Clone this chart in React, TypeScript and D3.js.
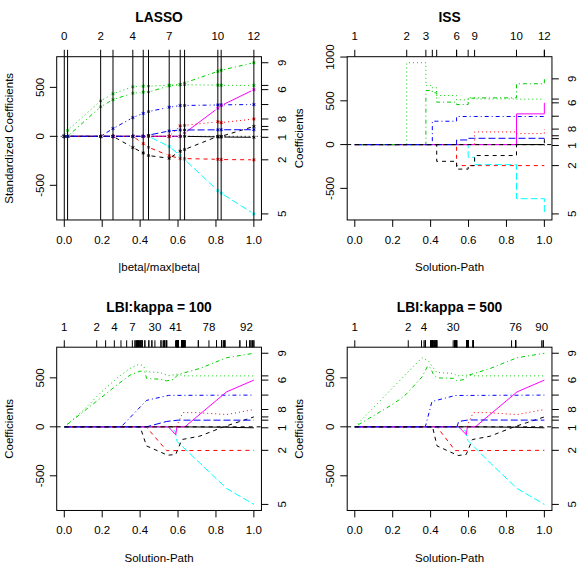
import React, { useEffect, useRef } from 'react';
import * as d3 from 'd3';

const FONT = "'Liberation Sans', Arial, Helvetica, sans-serif";

// R default palette (col 1:6) and matplot line types (lty 1:5)
const palette = ['#000000', '#FF0000', '#00CD00', '#0000FF', '#00FFFF', '#FF00FF'];
const ltys = [null, '4,4', '1,3', '1,3,4,3', '7,3'];

// variables: age sex bmi map tc ldl hdl tch ltg glu -> right axis labels 1..10
const varLabels = ['1', '2', '3', '4', '5', '6', '7', '8', '9', '10'];
const rightShown = ['1', '2', '5', '6', '8', '9'];

const xTicks = [0, 0.2, 0.4, 0.6, 0.8, 1.0];

// LASSO (lars) coefficients at each step, columns = variables 1..10
const lassoCoef = [
  [0, 0, 0, 0, 0, 0, 0, 0, 0, 0],
  [0, 0, 60.12, 0, 0, 0, 0, 0, 0, 0],
  [0, 0, 361.89, 0, 0, 0, 0, 0, 301.78, 0],
  [0, 0, 434.76, 79.24, 0, 0, 0, 0, 374.92, 0],
  [0, 0, 505.66, 191.27, 0, 0, -114.1, 0, 439.66, 0],
  [0, -74.92, 511.35, 234.15, 0, 0, -169.71, 0, 450.67, 0],
  [0, -111.98, 512.04, 252.53, 0, 0, -196.05, 0, 452.39, 12.08],
  [0, -197.76, 522.26, 297.16, -103.95, 0, -223.93, 0, 514.75, 54.77],
  [0, -226.13, 526.89, 314.39, -195.11, 0, -152.48, 106.34, 529.92, 64.49],
  [0, -227.18, 526.39, 314.95, -237.34, 33.63, -134.6, 111.38, 545.48, 64.61],
  [-5.72, -234.4, 522.65, 320.34, -554.27, 286.74, 0, 148.9, 663.03, 66.33],
  [-7.01, -237.1, 521.08, 321.55, -580.44, 313.86, 0, 139.86, 674.94, 67.18],
  [-10.01, -239.82, 519.84, 324.39, -792.18, 476.75, 101.04, 177.06, 751.28, 67.63],
];
const lassoShown = ['0', '2', '4', '7', '10', '12'];

// ISS: piecewise constant path, value holds from each break until the next
const issBreaks = [0, 0.274, 0.375, 0.409, 0.432, 0.537, 0.598, 0.632, 0.853, 1.0];
const issCoef = [
  [0, 0, 0, 0, 0, 0, 0, 0, 0, -10],
  [0, 0, 0, 0, 0, -240, -240, -240, -240, -240],
  [0, 935, 676, 649, 561, 511, 535, 522, 519, 520],
  [0, 0, 0, 267, 267, 321, 321, 321, 321, 324],
  [0, 0, 0, 0, 0, 0, -145, -229, -618, -792],
  [0, 0, 0, 0, 0, 0, 0, 0, 351, 477],
  [0, 0, 0, 0, -191, -280, -240, -125, 0, 101],
  [0, 0, 0, 0, 0, 0, 0, 145, 126, 177],
  [0, 0, 618, 592, 485, 458, 530, 534, 695, 751],
  [0, 0, 0, 0, 0, 53, 72, 72, 72, 68],
];
const issTicks = [0, 0.274, 0.375, 0.409, 0.432, 0.537, 0.537, 0.598, 0.632, 0.853, 1.0, 1.0];
const issShown = ['1', '2', '3', '6', '9', '10', '12'];

// LBI kappa = 100: [t, coefficient] per variable
const lbi100Paths = [
  [[0, 0], [0.6, 0], [0.85, -4], [1, -10]],
  [[0, 0], [0.432, 0], [0.54, -243], [1, -240]],
  [[0, 0], [0.1, 168], [0.19, 345], [0.28, 500], [0.346, 596], [0.39, 635], [0.415, 628], [0.434, 562], [0.504, 555], [0.548, 522], [0.6, 538], [0.627, 520], [1, 520]],
  [[0, 0], [0.3, 0], [0.434, 270], [0.55, 321], [1, 324]],
  [[0, 0], [0.548, 0], [0.585, -45], [0.595, -150], [0.715, -370], [0.856, -629], [1, -792]],
  [[0, 0], [0.548, 0], [0.588, -80], [0.594, 0], [0.636, 0], [0.856, 357], [1, 477]],
  [[0, 0], [0.4, 0], [0.434, -195], [0.545, -290], [0.588, -282], [0.62, -130], [0.715, -95], [0.84, 0], [1, 101]],
  [[0, 0], [0.59, 0], [0.625, 145], [0.7, 145], [0.856, 125], [1, 177]],
  [[0, 0], [0.188, 288], [0.276, 425], [0.346, 527], [0.4, 569], [0.425, 562], [0.434, 493], [0.504, 486], [0.54, 469], [0.575, 483], [0.6, 534], [0.715, 596], [0.856, 705], [1, 751]],
  [[0, 0], [0.434, 0], [0.54, 55], [0.6, 68], [1, 68]],
];
// top axis: [position, number of iterations stacked there]
const lbi100Ticks = [
  [0, 1], [0.171, 1], [0.218, 1], [0.264, 1], [0.299, 1], [0.329, 1], [0.359, 1],
  [0.373, 2], [0.38, 2], [0.386, 2], [0.392, 2], [0.398, 2], [0.404, 3], [0.411, 3], [0.425, 2], [0.446, 2], [0.462, 2],
  [0.478, 1], [0.51, 2], [0.522, 2], [0.53, 3], [0.54, 3],
  [0.587, 1], [0.592, 5], [0.597, 5], [0.602, 4], [0.619, 6], [0.625, 5], [0.63, 4], [0.636, 5], [0.707, 2],
  [0.763, 1], [0.803, 2], [0.83, 3], [0.842, 3], [0.847, 3], [0.926, 2],
  [0.961, 1], [0.979, 3], [0.991, 3], [1, 2],
];
const lbi100Shown = ['1', '2', '4', '7', '30', '41', '78', '92'];

// LBI kappa = 500
const lbi500Paths = [
  [[0, 0], [0.6, 0], [0.85, -4], [1, -10]],
  [[0, 0], [0.433, 0], [0.53, -243], [1, -240]],
  [[0, 0], [0.354, 705], [0.39, 670], [0.41, 610], [0.433, 555], [0.52, 545], [0.54, 520], [0.6, 530], [0.627, 520], [1, 520]],
  [[0, 0], [0.372, 0], [0.407, 258], [0.53, 320], [1, 324]],
  [[0, 0], [0.539, 0], [0.583, -40], [0.597, -140], [0.715, -370], [0.856, -629], [1, -792]],
  [[0, 0], [0.548, 0], [0.588, -80], [0.594, 0], [0.636, 0], [0.856, 357], [1, 477]],
  [[0, 0], [0.41, 0], [0.434, -195], [0.545, -293], [0.588, -282], [0.62, -130], [0.715, -95], [0.84, 0], [1, 101]],
  [[0, 0], [0.59, 0], [0.625, 145], [0.7, 145], [0.856, 125], [1, 177]],
  [[0, 0], [0.187, 215], [0.24, 284], [0.275, 340], [0.355, 510], [0.384, 620], [0.4, 600], [0.412, 545], [0.433, 500], [0.52, 495], [0.539, 469], [0.575, 483], [0.6, 527], [0.715, 596], [0.856, 705], [1, 751]],
  [[0, 0], [0.539, 0], [0.548, 55], [0.6, 70], [1, 68]],
];
const lbi500Ticks = [
  [0, 1], [0.282, 1], [0.352, 1], [0.365, 1],
  [0.372, 3], [0.402, 6], [0.412, 6], [0.423, 5], [0.432, 5],
  [0.519, 1], [0.528, 8], [0.537, 8], [0.59, 10], [0.598, 10], [0.625, 8], [0.827, 1],
  [0.848, 14], [0.986, 1], [0.994, 2],
];
const lbi500Shown = ['1', '2', '4', '30', '76', '90'];

// geometry (R default margins, one figure = a quarter of the page)
const FIG = 290.5;
const LINE = 13.83;
const L = 4.1 * LINE;
const T = 4.1 * LINE;
const R = FIG - 2.1 * LINE;
const B = FIG - 5.1 * LINE;
const TCK = 0.5 * LINE;

const expandTicks = (pairs) => {
  const out = [];
  pairs.forEach(([p, n]) => { for (let i = 0; i < n; i++) out.push(p); });
  return out;
};

function drawPanel(svg, cfg, idx) {
  const g = svg.append('g').attr('transform', `translate(${cfg.ox},${cfg.oy})`);
  const x = d3.scaleLinear().domain([-0.04, 1.04]).range([L, R]);
  const vals = cfg.paths.flat().map(p => p[1]);
  const lo = d3.min(vals), hi = d3.max(vals), pad = (hi - lo) * 0.04;
  const y = d3.scaleLinear().domain([lo - pad, hi + pad]).range([B, T]);

  const clipId = `clip${idx}`;
  g.append('clipPath').attr('id', clipId)
    .append('rect').attr('x', L).attr('y', T).attr('width', R - L).attr('height', B - T);
  const plot = g.append('g').attr('clip-path', `url(#${clipId})`);

  const line = d3.line().x(d => x(d[0])).y(d => y(d[1]));
  if (cfg.mode === 's') line.curve(d3.curveStepAfter);

  cfg.paths.forEach((path, i) => {
    const col = palette[i % 6];
    const dash = ltys[i % 5];
    if (cfg.mode === 'b') {
      // type = "b": segments leave a gap around each point
      const gap = 3;
      for (let k = 0; k < path.length - 1; k++) {
        const x0 = x(path[k][0]), y0 = y(path[k][1]);
        const x1 = x(path[k + 1][0]), y1 = y(path[k + 1][1]);
        const len = Math.hypot(x1 - x0, y1 - y0);
        if (len <= 2 * gap) continue;
        const ux = (x1 - x0) / len, uy = (y1 - y0) / len;
        plot.append('line')
          .attr('x1', x0 + ux * gap).attr('y1', y0 + uy * gap)
          .attr('x2', x1 - ux * gap).attr('y2', y1 - uy * gap)
          .attr('stroke', col).attr('stroke-width', 1)
          .attr('stroke-dasharray', dash);
      }
      path.forEach(p => {
        const cx = x(p[0]), cy = y(p[1]), r = 1.8;
        const a = Math.sin(Math.PI / 3) * r, b = Math.cos(Math.PI / 3) * r;
        plot.append('path')
          .attr('d', `M${cx},${cy - r}L${cx},${cy + r}M${cx - a},${cy - b}L${cx + a},${cy + b}M${cx - a},${cy + b}L${cx + a},${cy - b}`)
          .attr('stroke', col).attr('stroke-width', 0.9).attr('fill', 'none');
      });
    } else {
      plot.append('path')
        .datum(path)
        .attr('d', line)
        .attr('fill', 'none')
        .attr('stroke', col)
        .attr('stroke-width', 1)
        .attr('stroke-dasharray', dash);
    }
  });

  // zero line
  plot.append('line')
    .attr('x1', L).attr('x2', R).attr('y1', y(0)).attr('y2', y(0))
    .attr('stroke', 'black').attr('stroke-width', 1)
    .attr('stroke-dasharray', cfg.hdash);

  // step lines for lars
  if (cfg.vlines) {
    cfg.topTicks.forEach(t => {
      plot.append('line')
        .attr('x1', x(t)).attr('x2', x(t)).attr('y1', T).attr('y2', B)
        .attr('stroke', 'black').attr('stroke-width', 1);
    });
  }

  // box
  g.append('rect').attr('x', L).attr('y', T).attr('width', R - L).attr('height', B - T)
    .attr('fill', 'none').attr('stroke', 'black').attr('stroke-width', 1);

  const txt = (sel) => sel.attr('font-family', FONT).attr('fill', 'black');

  // bottom axis
  xTicks.forEach(t => {
    g.append('line').attr('x1', x(t)).attr('x2', x(t)).attr('y1', B).attr('y2', B + TCK)
      .attr('stroke', 'black');
    txt(g.append('text')).attr('x', x(t)).attr('y', B + 24)
      .attr('text-anchor', 'middle').attr('font-size', 11.5).text(d3.format('.1f')(t));
  });

  // left axis
  cfg.yTicks.forEach(v => {
    g.append('line').attr('x1', L - TCK).attr('x2', L).attr('y1', y(v)).attr('y2', y(v))
      .attr('stroke', 'black');
    txt(g.append('text')).attr('transform', `translate(${L - 13.2},${y(v)}) rotate(-90)`)
      .attr('text-anchor', 'middle').attr('font-size', 11.5).text(v);
  });

  // top axis
  const shown = new Set(cfg.topShown);
  const drawnLabels = new Set();
  cfg.topTicks.forEach((t, i) => {
    g.append('line').attr('x1', x(t)).attr('x2', x(t)).attr('y1', T - TCK).attr('y2', T)
      .attr('stroke', 'black');
    const lab = cfg.topLabels[i];
    if (shown.has(lab) && !drawnLabels.has(lab)) {
      drawnLabels.add(lab);
      txt(g.append('text')).attr('x', x(t)).attr('y', T - 16.7)
        .attr('text-anchor', 'middle').attr('font-size', 11.5).text(lab);
    }
  });

  // right axis: final coefficient of every variable
  const finals = cfg.paths.map(p => p[p.length - 1][1]);
  finals.forEach((v, i) => {
    g.append('line').attr('x1', R).attr('x2', R + TCK).attr('y1', y(v)).attr('y2', y(v))
      .attr('stroke', 'black');
    if (rightShown.includes(varLabels[i])) {
      txt(g.append('text')).attr('transform', `translate(${R + 24.3},${y(v)}) rotate(-90)`)
        .attr('text-anchor', 'middle').attr('font-size', 11.5).text(varLabels[i]);
    }
  });

  // titles
  txt(g.append('text')).attr('x', (L + R) / 2).attr('y', 21.7)
    .attr('text-anchor', 'middle').attr('font-size', 13.8).attr('font-weight', 'bold')
    .text(cfg.title);
  txt(g.append('text')).attr('x', (L + R) / 2).attr('y', B + 51.5)
    .attr('text-anchor', 'middle').attr('font-size', 11.5).text(cfg.xlab);
  txt(g.append('text')).attr('transform', `translate(12.7,${(T + B) / 2}) rotate(-90)`)
    .attr('text-anchor', 'middle').attr('font-size', 11.5).text(cfg.ylab);
}

const App = () => {
  const svgRef = useRef(null);

  useEffect(() => {
    const svg = d3.select(svgRef.current);
    svg.selectAll('*').remove();

    // lars x axis: |beta| / max|beta|
    const norms = lassoCoef.map(r => d3.sum(r, v => Math.abs(v)));
    const maxNorm = norms[norms.length - 1];
    const lassoS = norms.map(n => n / maxNorm);
    const lassoPaths = varLabels.map((_, j) => lassoCoef.map((r, k) => [lassoS[k], r[j]]));

    const issPaths = issCoef.map(vals => vals.map((v, k) => [issBreaks[k], v]));

    const t100 = expandTicks(lbi100Ticks);
    const t500 = expandTicks(lbi500Ticks);

    const panels = [
      {
        ox: 0, oy: 0, title: 'LASSO', xlab: '|beta|/max|beta|', ylab: 'Standardized Coefficients',
        yTicks: [-500, 0, 500], mode: 'b', paths: lassoPaths, vlines: true, hdash: '1,3',
        topTicks: lassoS, topLabels: lassoS.map((_, i) => String(i)), topShown: lassoShown,
      },
      {
        ox: FIG, oy: 0, title: 'ISS', xlab: 'Solution-Path', ylab: 'Coefficients',
        yTicks: [-500, 0, 500, 1000], mode: 's', paths: issPaths, vlines: false, hdash: '4,4',
        topTicks: issTicks, topLabels: issTicks.map((_, i) => String(i + 1)), topShown: issShown,
      },
      {
        ox: 0, oy: FIG, title: 'LBI:kappa = 100', xlab: 'Solution-Path', ylab: 'Coefficients',
        yTicks: [-500, 0, 500], mode: 'l', paths: lbi100Paths, vlines: false, hdash: '4,4',
        topTicks: t100, topLabels: t100.map((_, i) => String(i + 1)), topShown: lbi100Shown,
      },
      {
        ox: FIG, oy: FIG, title: 'LBI:kappa = 500', xlab: 'Solution-Path', ylab: 'Coefficients',
        yTicks: [-500, 0, 500], mode: 'l', paths: lbi500Paths, vlines: false, hdash: '4,4',
        topTicks: t500, topLabels: t500.map((_, i) => String(i + 1)), topShown: lbi500Shown,
      },
    ];
    panels.forEach((p, i) => drawPanel(svg, p, i));
  }, []);

  return (
    <svg ref={svgRef} width={581} height={581}
      style={{ position: 'absolute', left: 0, top: 0, background: 'white' }} />
  );
};

export default App;
